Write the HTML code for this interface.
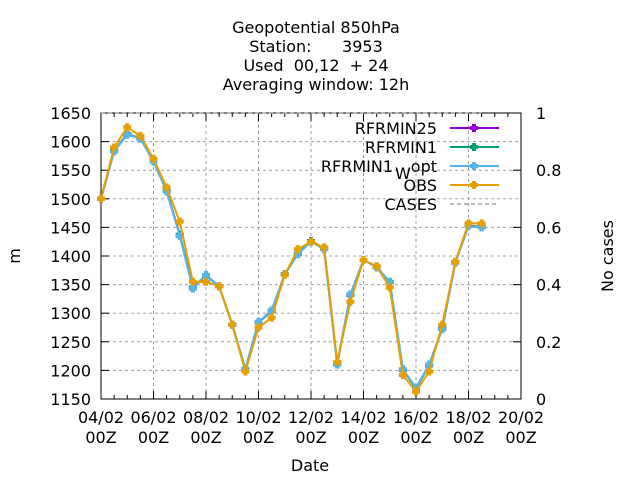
<!DOCTYPE html>
<html><head><meta charset="utf-8"><style>
body{margin:0;background:#fff;font-family:"DejaVu Sans",sans-serif;}
svg text{font-family:"DejaVu Sans",sans-serif;font-size:16px;fill:#000;}
</style></head><body>
<svg id="chart" width="640" height="480">
<g>
<text x="316" y="33" text-anchor="middle">Geopotential 850hPa</text>
<text x="316" y="52" text-anchor="middle" xml:space="preserve">Station:      3953</text>
<text x="316" y="71" text-anchor="middle" xml:space="preserve">Used  00,12  + 24</text>
<text x="316" y="90" text-anchor="middle">Averaging window: 12h</text>
</g>
<g id="grid"></g><g id="axes"></g><g id="series"></g>
<text x="20" y="256" text-anchor="middle" transform="rotate(-90 20 256)">m</text>
<text x="613" y="256" text-anchor="middle" transform="rotate(-90 613 256)">No cases</text>
<text x="310" y="471" text-anchor="middle">Date</text>
<g id="legend"></g>
</svg>
<script>
const xLabels=["04/02","06/02","08/02","10/02","12/02","14/02","16/02","18/02","20/02"];
const yTicks=[1150,1200,1250,1300,1350,1400,1450,1500,1550,1600,1650];
const y2Ticks=[0,0.2,0.4,0.6,0.8,1];
const obs=[1500,1590,1625,1610,1570,1520,1460,1355,1355,1347,1280,1198,1275,1292,1367,1412,1425,1415,1215,1320,1393,1382,1345,1192,1163,1198,1280,1390,1457,1457];
const wopt=[1500,1583,1612,1605,1565,1513,1435,1343,1367,1347,1280,1203,1285,1305,1368,1403,1425,1412,1210,1333,1393,1380,1355,1202,1170,1210,1272,1388,1452,1450];
const rf1=[1500,1584,1613,1606,1566,1514,1437,1345,1366,1347,1280,1202,1284,1304,1368,1404,1426,1413,1211,1332,1393,1381,1354,1201,1169,1209,1273,1389,1453,1451];
const rf25=[1500,1584,1613,1606,1566,1514,1437,1345,1366,1347,1280,1202,1284,1304,1368,1404,1426,1413,1211,1332,1393,1381,1354,1201,1169,1209,1273,1389,1453,1451];
const cases=[1,1,1,1,1,1,1,1,1,1,1,1,1,1,1,1,1,1,1,1,1,1,1,1,1,1,1,1,1,1];
const L=101,R=521,T=113,B=399,NS=32;
const xs=i=>L+(R-L)*i/NS;
const ys=v=>B-(B-T)*(v-1150)/500;
const y2=v=>B-(B-T)*v;
const NS_="http://www.w3.org/2000/svg";
function mk(p,t,a){const e=document.createElementNS(NS_,t);for(const k in a)e.setAttribute(k,a[k]);p.appendChild(e);return e;}
const grid=document.getElementById('grid'),axes=document.getElementById('axes'),ser=document.getElementById('series'),leg=document.getElementById('legend');
yTicks.forEach((v,i)=>{
 if(i>0&&i<yTicks.length-1){const g=mk(grid,'line',{x1:L,x2:R,y1:ys(v),y2:ys(v),stroke:'#a0a0a0','stroke-dasharray':'3,3'});
 
 }
 mk(axes,'line',{x1:L,x2:L+8,y1:ys(v),y2:ys(v),stroke:'#000'});
 const t=mk(axes,'text',{x:L-10,y:ys(v)+6,'text-anchor':'end'});t.textContent=v;
 
 
});
y2Ticks.forEach(v=>{
 mk(axes,'line',{x1:R-8,x2:R,y1:y2(v),y2:y2(v),stroke:'#000'});
 const t=mk(axes,'text',{x:R+15,y:y2(v)+6});t.textContent=v;
 
 
});
for(let i=0;i<=NS;i++){const maj=i%4==0;mk(axes,'line',{x1:xs(i),x2:xs(i),y1:B,y2:B-(maj?8:4),stroke:'#000'});mk(axes,'line',{x1:xs(i),x2:xs(i),y1:T,y2:T+(maj?8:4),stroke:'#000'});}
xLabels.forEach((s,k)=>{const x=xs(k*4);
 if(k>0&&k<xLabels.length-1){const g=mk(grid,'line',{x1:x,x2:x,y1:T,y2:B,stroke:'#a0a0a0','stroke-dasharray':'3,3'});
 
 }
 const t=mk(axes,'text',{x:x,y:B+24,'text-anchor':'middle'});t.textContent=s;
 
 
 const t2=mk(axes,'text',{x:x,y:B+44,'text-anchor':'middle'});t2.textContent="00Z";
 
 
});
const border=mk(axes,'rect',{x:L,y:T,width:R-L,height:B-T,fill:'none',stroke:'#000'});


const cl=mk(ser,'polyline',{points:cases.map((v,i)=>xs(i)+','+y2(v)).join(' '),fill:'none',stroke:'#a0a0a0','stroke-width':1.5,'stroke-dasharray':'4,3'});


function line(d,c,name){
 const g=mk(ser,'g',{});
 
 
 mk(g,'polyline',{points:d.map((v,i)=>xs(i)+','+ys(v)).join(' '),fill:'none',stroke:c,'stroke-width':2});
 d.forEach((v,i)=>{const p=mk(g,'path',{d:`M${xs(i)-4},${ys(v)}h8M${xs(i)},${ys(v)-4}v8`,stroke:c,'stroke-width':4});
 
 });
}
line(rf25,'#9400d3','series-rfrmin25');
line(rf1,'#009e73','series-rfrmin1');
line(wopt,'#56b4e9','series-rfrmin1-wopt');
line(obs,'#e69f00','series-obs');
const items=[["RFRMIN25","#9400d3"],["RFRMIN1","#009e73"],["RFRMIN1","#56b4e9"],["OBS","#e69f00"],["CASES","#a0a0a0"]];
items.forEach((it,k)=>{const y=128+k*19;
 const g=mk(leg,'g',{});
 
 
 const t=mk(g,'text',{x:k==2?393:437,y:y+6,'text-anchor':'end'});t.textContent=it[0];
 if(k==2){const s=mk(g,'text',{x:395,y:y+13,'font-size':'14'});s.textContent='W';const o=mk(g,'text',{x:437,y:y+6,'text-anchor':'end'});o.textContent='opt';}
 if(k<4){mk(g,'line',{x1:450,x2:499,y1:y,y2:y,stroke:it[1],'stroke-width':2});mk(g,'path',{d:`M470,${y}h8M474,${y-4}v8`,stroke:it[1],'stroke-width':4});}
 else mk(g,'line',{x1:450,x2:499,y1:y,y2:y,stroke:it[1],'stroke-width':1.5,'stroke-dasharray':'4,3'});
});
</script>
</body></html>
